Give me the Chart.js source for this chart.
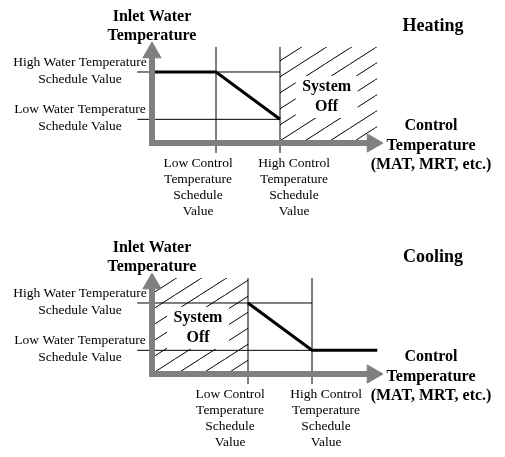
<!DOCTYPE html>
<html>
<head>
<meta charset="utf-8">
<script src="https://cdn.jsdelivr.net/npm/chart.js@4.4.0/dist/chart.umd.min.js"></script>
<style>
  html, body { margin: 0; padding: 0; background: #fff; }
  canvas { display: block; }
</style>
</head>
<body>
<canvas id="heating" width="505" height="231"></canvas>
<canvas id="cooling" width="505" height="226"></canvas>
<script>
// Schedule levels on the water temperature axis (high, low)
const waterLevels = [3, 1];
const waterLabels = [
  ['High Water Temperature', 'Schedule Value'],
  ['Low Water Temperature', 'Schedule Value']
];
const controlLabels = [
  ['Low Control', 'Temperature', 'Schedule', 'Value'],
  ['High Control', 'Temperature', 'Schedule', 'Value']
];
const yAxisTitle = ['Inlet Water', 'Temperature'];
const xAxisTitle = ['Control', 'Temperature', '(MAT, MRT, etc.)'];
const offLabel = ['System', 'Off'];

// Heating: full water temp below low control, ramps down, off above high control
const heatingControl = [1, 2];
const heatingCurveX = [0, 1, 2];
const heatingCurveY = [3, 3, 1];
const heatingOff = [2, 3.52];

// Cooling: off below low control, ramps down, low water temp above high control
const coolingControl = [1.5, 2.5];
const coolingCurveX = [1.5, 2.5, 3.52];
const coolingCurveY = [3, 1, 1];
const coolingOff = [0, 1.5];

// extents of the guide lines and axis arrows
const guideTop = 4.06, guideBottom = -0.42, guideLeft = -0.23;
const arrowY = 3.82, arrowX = 3.445;

const serif = "'Liberation Serif', 'Times New Roman', serif";
const gray = '#808080';

function hatchPattern() {
  const tile = document.createElement('canvas');
  tile.width = 25;
  tile.height = 16;
  const c = tile.getContext('2d');
  c.strokeStyle = '#000';
  c.lineWidth = 1;
  c.beginPath();
  for (const dx of [-25, 0, 25]) {
    c.moveTo(dx, 16);
    c.lineTo(dx + 25, 0);
  }
  c.stroke();
  return c.createPattern(tile, 'repeat');
}

// labels, titles and the "System Off" box
const panelText = {
  id: 'panelText',
  afterDatasetsDraw(chart, args, opts) {
    const ctx = chart.ctx;
    const X = v => chart.scales.x.getPixelForValue(v);
    const Y = v => chart.scales.y.getPixelForValue(v);
    const block = (lines, cx, cy, step) => {
      lines.forEach((t, i) => ctx.fillText(t, cx, cy + (i - (lines.length - 1) / 2) * step));
    };
    ctx.save();
    ctx.textAlign = 'center';
    ctx.textBaseline = 'middle';

    // System Off
    const bx = X((opts.off[0] + opts.off[1]) / 2) - 2;
    const by = Y(guideTop / 2) + 2;
    ctx.fillStyle = '#fff';
    ctx.fillRect(bx - 31, by - 21, 62, 42);
    ctx.fillStyle = '#000';
    ctx.font = 'bold 16px ' + serif;
    block(offLabel, bx, by, 19.5);

    // titles
    ctx.font = 'bold 18px ' + serif;
    ctx.fillText(opts.title, X(4.39), Y(4.91));
    ctx.font = 'bold 16px ' + serif;
    block(yAxisTitle, X(0), Y(4.94), 19);
    block(xAxisTitle, X(4.36), Y(-0.1), 19.5);

    // tick labels
    ctx.font = '13.5px ' + serif;
    waterLevels.forEach((lv, i) => block(waterLabels[i], X(-1.125), Y(lv) - 1.5, 17));
    const shift = [-0.28, 0.22];
    opts.control.forEach((cv, i) => block(controlLabels[i], X(cv + shift[i]), Y(-1.88), 16));
    ctx.restore();
  }
};

function makePanel(id, title, control, curveX, curveY, off) {
  const canvas = document.getElementById(id);
  const h = canvas.height;

  const guides = [];
  waterLevels.forEach(lv => {
    guides.push({ x: guideLeft, y: lv }, { x: control[1], y: lv }, { x: control[1], y: null });
  });
  control.forEach(cv => {
    guides.push({ x: cv, y: guideBottom }, { x: cv, y: guideTop }, { x: cv + 0.001, y: null });
  });

  return new Chart(canvas, {
    type: 'line',
    data: {
      datasets: [
        {
          // gray axes with arrow heads
          data: [{ x: 0, y: arrowY }, { x: 0, y: 0 }, { x: arrowX, y: 0 }],
          borderColor: gray,
          borderWidth: 6,
          borderJoinStyle: 'miter',
          pointStyle: 'triangle',
          pointRadius: [10.5, 0, 10.5],
          pointRotation: [0, 0, 90],
          pointBackgroundColor: gray,
          pointBorderColor: gray,
          pointBorderWidth: 1
        },
        {
          data: curveX.map((x, i) => ({ x, y: curveY[i] })),
          borderColor: '#000',
          borderWidth: 3,
          pointRadius: 0
        },
        {
          data: guides,
          borderColor: '#000',
          borderWidth: 1,
          pointRadius: 0,
          spanGaps: false
        },
        {
          data: [{ x: off[0], y: guideTop }, { x: off[1], y: guideTop }],
          borderWidth: 0,
          pointRadius: 0,
          fill: 'origin',
          backgroundColor: hatchPattern()
        }
      ]
    },
    options: {
      responsive: false,
      animation: false,
      events: [],
      layout: { padding: 0, autoPadding: false },
      plugins: {
        legend: { display: false },
        tooltip: { enabled: false },
        panelText: { title, control, off }
      },
      scales: {
        x: { type: 'linear', display: false, min: -152 / 64, max: (505 - 152) / 64 },
        y: { type: 'linear', display: false, min: -(h - 143) / 23.67, max: 143 / 23.67 }
      }
    },
    plugins: [panelText]
  });
}

makePanel('heating', 'Heating', heatingControl, heatingCurveX, heatingCurveY, heatingOff);
makePanel('cooling', 'Cooling', coolingControl, coolingCurveX, coolingCurveY, coolingOff);
</script>
</body>
</html>
